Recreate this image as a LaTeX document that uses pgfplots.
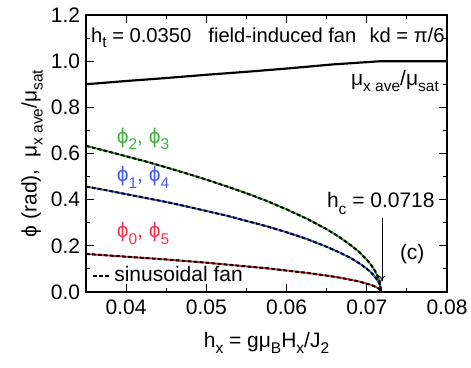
\documentclass[border=0pt]{standalone}
\usepackage{fontspec}
\setmainfont{Liberation Sans}
\usepackage{pgfplots}
\pgfplotsset{compat=1.18}
\usepackage{pgfplotstable}
\usetikzlibrary{arrows.meta}

\definecolor{phigreen}{HTML}{3C8C28}
\definecolor{phiblue}{HTML}{3A55F0}
\definecolor{phired}{HTML}{F02828}
\definecolor{txtgreen}{HTML}{3CB43C}
\definecolor{txtblue}{HTML}{4A5AF0}
\definecolor{txtred}{HTML}{FF3050}

\newcommand{\fnt}{\fontsize{12.6}{15}\selectfont}
\newcommand{\sub}[1]{\raisebox{-0.55ex}{\fontsize{9.3}{11}\selectfont #1}}
\newcommand{\ph}{ϕ}

% angles of the field-induced fan (rad) and normalized moment
\pgfplotstableread{
h       g      b      r
0.0350  0.633  0.457  0.165
0.0375  0.611  0.441  0.159
0.0400  0.588  0.424  0.153
0.0425  0.565  0.407  0.147
0.0450  0.540  0.390  0.141
0.0475  0.514  0.371  0.134
0.0500  0.487  0.351  0.127
0.0525  0.458  0.331  0.119
0.0550  0.428  0.308  0.111
0.0575  0.395  0.285  0.103
0.0600  0.358  0.259  0.093
0.0625  0.318  0.230  0.083
0.0650  0.272  0.196  0.071
0.0665  0.240  0.173  0.063
0.0680  0.203  0.147  0.053
0.0690  0.175  0.126  0.046
0.0700  0.140  0.101  0.036
0.0705  0.119  0.086  0.031
0.0710  0.093  0.067  0.024
0.0714  0.066  0.048  0.017
0.0716  0.047  0.034  0.012
0.0718  0.000  0.000  0.000
}\fan

\pgfplotstableread{
h       mu
0.0350  0.900
0.0400  0.914
0.0450  0.927
0.0500  0.941
0.0550  0.954
0.0600  0.968
0.0658  0.986
0.0718  1.000
0.0800  1.000
}\moment

\begin{document}
\begin{tikzpicture}
\begin{axis}[
    scale only axis,
    width=216.6pt, height=166.2pt,
    xmin=0.035, xmax=0.08,
    ymin=0, ymax=1.2,
    xtick={0.04,0.05,0.06,0.07,0.08},
    ytick={0,0.2,0.4,0.6,0.8,1.0,1.2},
    minor x tick num=1,
    minor y tick num=1,
    tick align=inside,
    major tick length=4.8pt,
    minor tick length=2.4pt,
    tick style={black, line width=0.6pt},
    axis line style={line width=0.9pt},
    xticklabel style={/pgf/number format/.cd, fixed, fixed zerofill, precision=2, assume math mode=true},
    yticklabel style={/pgf/number format/.cd, fixed, fixed zerofill, precision=1, assume math mode=true},
    scaled x ticks=false,
    tick label style={font=\fnt},
    xticklabel shift=1pt,
    yticklabel shift=0pt,
    xlabel={h\sub{x} = gμ\sub{B}H\sub{x}/J\sub{2}},
    ylabel={\ph{} (rad),\ \ μ\sub{x ave}/μ\sub{sat}},
    xlabel style={font=\fnt, yshift=-4pt},
    ylabel style={font=\fnt, yshift=-2pt},
    legend style={at={(rel axis cs:0.012,0.008)}, anchor=south west,
        draw=none, fill=none, font=\fnt, inner sep=1pt},
    legend cell align=left,
    legend image code/.code={\draw[#1] (0pt,0pt) -- (10pt,0pt);},
    clip=false,
]
\addplot[phigreen, line width=1.1pt, forget plot] table[x=h, y=g] {\fan};
\addplot[phiblue, line width=1.1pt, forget plot] table[x=h, y=b] {\fan};
\addplot[phired, line width=1.1pt, forget plot] table[x=h, y=r] {\fan};
\addplot[black, line width=1.2pt, dash pattern=on 2.2pt off 1.4pt] table[x=h, y=g] {\fan};
\addlegendentry{sinusoidal fan}
\addplot[black, line width=1.2pt, dash pattern=on 2.2pt off 1.4pt, forget plot] table[x=h, y=b] {\fan};
\addplot[black, line width=1.2pt, dash pattern=on 2.2pt off 1.4pt, forget plot] table[x=h, y=r] {\fan};
\addplot[black, line width=1.3pt, forget plot] coordinates {(0.0718,0) (0.08,0)};
\addplot[black, line width=1.3pt, forget plot] table[x=h, y=mu] {\moment};

\node[anchor=base west, font=\fontsize{12.1}{14}\selectfont, inner sep=0pt] at (axis cs:0.0356,1.083)
    {h\sub{t} = 0.0350\hspace{0.85em}field-induced fan\hspace{0.65em}kd = π/6};
\node[anchor=base west, font=\fnt, inner sep=0pt] at (axis cs:0.0680,0.895)
    {μ\sub{x ave}/μ\sub{sat}};
\node[anchor=base west, font=\fnt, inner sep=0pt, txtgreen] at (axis cs:0.0388,0.645) {\ph\sub{2}, \ph\sub{3}};
\node[anchor=base west, font=\fnt, inner sep=0pt, txtblue] at (axis cs:0.0388,0.477) {\ph\sub{1}, \ph\sub{4}};
\node[anchor=base west, font=\fnt, inner sep=0pt, txtred] at (axis cs:0.0388,0.234) {\ph\sub{0}, \ph\sub{5}};
\node[anchor=base west, font=\fnt, inner sep=0pt] at (axis cs:0.0650,0.364) {h\sub{c} = 0.0718};
\node[anchor=base west, font=\fnt, inner sep=0pt] at (axis cs:0.0741,0.139) {(c)};
\draw[-{To[length=3.5pt,width=3.5pt]}, line width=0.5pt] (axis cs:0.0719,0.320) -- (axis cs:0.0719,0.045);

\coordinate (bl) at (rel axis cs:0,0);
\coordinate (tr) at (rel axis cs:1,1);
\end{axis}
\pgfresetboundingbox
\path ([shift={(-51.6pt,-45pt)}]bl) rectangle ([shift={(14.4pt,9pt)}]tr);
\end{tikzpicture}
\end{document}
